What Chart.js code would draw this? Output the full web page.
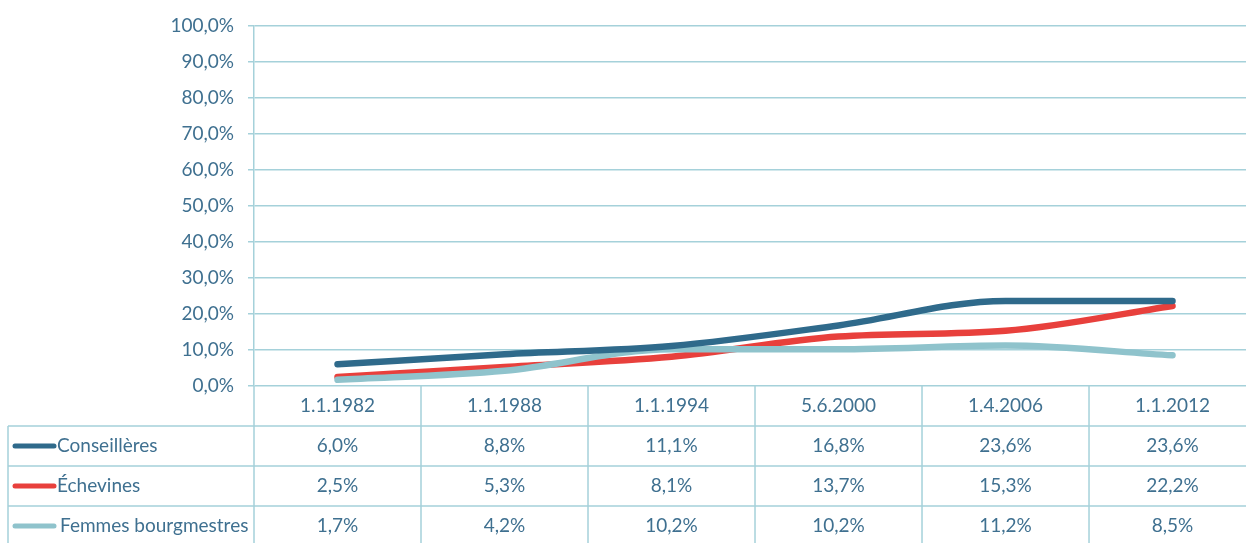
<!DOCTYPE html>
<html>
<head>
<meta charset="utf-8">
<script src="https://cdn.jsdelivr.net/npm/chart.js@4.4.0/dist/chart.umd.min.js"></script>
<style>
  html, body { margin: 0; padding: 0; background: #fff; overflow: hidden; }
  #wrap { width: 1246px; height: 543px; }
</style>
</head>
<body>
<div id="wrap"><canvas id="chart" width="1246" height="543"></canvas></div>
<script>
// Données
const dates = ['1.1.1982', '1.1.1988', '1.1.1994', '5.6.2000', '1.4.2006', '1.1.2012'];
const seriesNames = ['Conseillères', 'Échevines', 'Femmes bourgmestres'];
const conseilleres = [6.0, 8.8, 11.1, 16.8, 23.6, 23.6];
const echevines = [2.5, 5.3, 8.1, 13.7, 15.3, 22.2];
const bourgmestres = [1.7, 4.2, 10.2, 10.2, 11.2, 8.5];
const yTicks = [0, 10, 20, 30, 40, 50, 60, 70, 80, 90, 100];

const GRID = '#a5d1da';
const TEXT = '#3f7090';
const FONT = 'Lato, "Open Sans", sans-serif';
const colors = ['#2f6a8b', '#e8403c', '#8fc3cc'];
const allSeries = [conseilleres, echevines, bourgmestres];

const fmt = v => v.toFixed(1).replace('.', ',') + '%';

// Tableau de données sous le graphique
const dataTable = {
  id: 'dataTable',
  afterDraw(chart) {
    const ctx = chart.ctx;
    const x = chart.scales.x;
    const area = chart.chartArea;
    const top = area.bottom;
    const rowH = 40;
    const left = 8;
    const bottom = chart.height + 5;

    ctx.save();
    ctx.strokeStyle = GRID;
    ctx.lineWidth = 1.5;

    // lignes horizontales
    for (let r = 1; r <= 3; r++) {
      const y = top + rowH * r;
      ctx.beginPath();
      ctx.moveTo(left, y);
      ctx.lineTo(chart.width, y);
      ctx.stroke();
    }
    // bord gauche
    ctx.beginPath();
    ctx.moveTo(left, top + rowH);
    ctx.lineTo(left, bottom);
    ctx.stroke();
    // séparateurs de colonnes
    for (let i = 0; i <= dates.length; i++) {
      const px = x.getPixelForValue(i - 0.5);
      if (px > chart.width) continue;
      ctx.beginPath();
      ctx.moveTo(px, top);
      ctx.lineTo(px, bottom);
      ctx.stroke();
    }

    ctx.fillStyle = TEXT;
    ctx.font = '19px ' + FONT;
    ctx.textAlign = 'center';
    ctx.textBaseline = 'middle';
    dates.forEach((d, i) => {
      ctx.fillText(d, x.getPixelForValue(i), top + rowH / 2);
    });

    allSeries.forEach((vals, s) => {
      const cy = top + rowH * (s + 1) + rowH / 2;
      vals.forEach((v, i) => {
        ctx.fillText(fmt(v), x.getPixelForValue(i), cy);
      });
      // légende
      ctx.save();
      ctx.strokeStyle = colors[s];
      ctx.lineWidth = 5;
      ctx.lineCap = 'round';
      ctx.beginPath();
      ctx.moveTo(15, cy);
      ctx.lineTo(54, cy);
      ctx.stroke();
      ctx.restore();
      ctx.textAlign = 'left';
      ctx.fillText(seriesNames[s], s === 2 ? 60 : 57, cy);
      ctx.textAlign = 'center';
    });
    ctx.restore();
  }
};

const points = vals => vals.map((v, i) => ({ x: i, y: v }));

new Chart(document.getElementById('chart'), {
  type: 'line',
  data: {
    datasets: [
      { label: seriesNames[0], data: points(conseilleres), borderColor: colors[0], order: 0 },
      { label: seriesNames[1], data: points(echevines), borderColor: colors[1], order: 2 },
      { label: seriesNames[2], data: points(bourgmestres), borderColor: colors[2], order: 1 },
    ]
  },
  options: {
    responsive: false,
    animation: false,
    devicePixelRatio: 1,
    layout: { padding: { top: 25, bottom: 157, left: 0, right: 0 } },
    elements: {
      line: { borderWidth: 6.5, borderCapStyle: 'round', borderJoinStyle: 'round', cubicInterpolationMode: 'monotone', fill: false },
      point: { radius: 0, hoverRadius: 0 }
    },
    plugins: {
      legend: { display: false },
      tooltip: { enabled: false }
    },
    scales: {
      x: {
        type: 'linear',
        display: false,
        min: -0.5,
        max: 5.44
      },
      y: {
        min: 0,
        max: 100,
        afterFit(scale) { scale.width = 254; },
        afterBuildTicks(scale) { scale.ticks = yTicks.map(v => ({ value: v })); },
        border: { display: true, color: GRID, width: 1.5 },
        grid: { color: GRID, lineWidth: 1.5, tickLength: 6, drawTicks: true },
        ticks: {
          color: TEXT,
          padding: 14,
          font: { family: FONT, size: 19 },
          callback: v => fmt(v)
        }
      }
    }
  },
  plugins: [dataTable]
});
</script>
</body>
</html>
